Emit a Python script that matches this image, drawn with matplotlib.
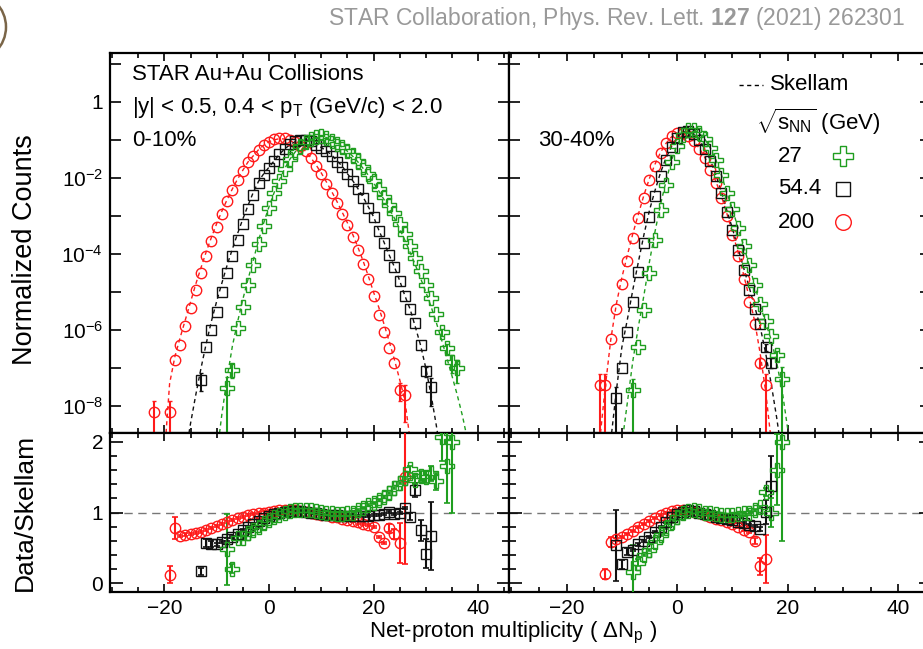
import numpy as np
import matplotlib
matplotlib.use("Agg")
import matplotlib.pyplot as plt
from matplotlib.lines import Line2D
from matplotlib.patches import Circle
from matplotlib.ticker import FixedLocator, MultipleLocator, FuncFormatter

plt.rcParams['font.family'] = ['Liberation Sans', 'DejaVu Sans']
plt.rcParams['mathtext.fontset'] = 'custom'
plt.rcParams['mathtext.rm'] = 'Liberation Sans'
plt.rcParams['mathtext.it'] = 'Liberation Sans:italic'
plt.rcParams['mathtext.bf'] = 'Liberation Sans:bold'

nan = np.nan

# ---------------- 0-10% ----------------
# log10(normalized counts), one value per integer dNp starting at *_x0
red_l_x0 = -22
red_l_log = [-8.16, nan, nan, -8.16, -6.78, -6.38, -5.90, -5.42, -4.94, -4.50, -4.06, -3.67,
             -3.29, -2.94, -2.62, -2.33, -2.05, -1.81, -1.59, -1.42, -1.26, -1.14, -1.05, -0.99,
             -0.95, -0.96, -1.00, -1.07, -1.16, -1.30, -1.48, -1.68, -1.90, -2.15, -2.40, -2.66,
             -2.94, -3.23, -3.54, -3.89, -4.26, -4.66, -5.10, -5.60, -6.06, -6.47, -6.87, -7.56, -7.70]
red_l_top_err = {-22: 1.0, -19: 1.0, 25: 0.5, 26: 0.8}
red_l_skel_x0 = -20
red_l_skel = [-9.3, -7.4, -6.7, -6.2, -5.73, -5.26, -4.79, -4.36, -3.94, -3.56, -3.20, -2.87,
              -2.57, -2.29, -2.03, -1.80, -1.58, -1.42, -1.26, -1.14, -1.05, -1.00, -0.97, -0.98,
              -1.02, -1.09, -1.17, -1.30, -1.47, -1.66, -1.87, -2.11, -2.36, -2.62, -2.90, -3.18,
              -3.48, -3.82, -4.18, -4.58, -5.00, -5.40, -5.84, -6.30, -6.78, -7.30, -7.85, -8.9]
red_l_ratio_x0 = -19
red_l_ratio = [0.12, 0.78, 0.67, 0.69, 0.70, 0.71, 0.73, 0.75, 0.78, 0.81, 0.84, 0.87, 0.90,
               0.92, 0.94, 0.96, 0.98, 0.99, 1.00, 1.01, 1.02, 1.03, 1.03, 1.03, 1.03, 1.02,
               1.01, 1.00, 0.98, 0.97, 0.96, 0.94, 0.93, 0.91, 0.89, 0.88, 0.86, 0.84, 0.82,
               0.80, 0.65, 0.57, 0.78, 0.70, 0.57, 1.50]
red_l_ratio_err = {-19: 0.12, -18: 0.15, 23: 0.06, 24: 0.07, 25: 0.28, 26: 1.22}

blk_l_x0 = -13
blk_l_log = [-7.30, -6.43, -5.99, -5.51, -5.00, -4.50, -4.05, -3.62, -3.20, -2.81, -2.45, -2.14,
             -1.93, -1.74, -1.56, -1.38, -1.24, -1.12, -1.04, -1.00, -1.00, -1.04, -1.13, -1.22,
             -1.30, -1.42, -1.57, -1.71, -1.91, -2.09, -2.30, -2.52, -2.78, -3.04, -3.39, -3.70,
             -4.03, -4.35, -4.70, -5.09, -5.45, -5.80, -6.38, -7.08, -7.48]
blk_l_top_err = {-13: 0.5, 30: 0.3, 31: 0.7}
blk_l_skel_x0 = -16
blk_l_skel = [-9.3, -8.45, -7.7, -7.0, -6.35, -5.76, -5.24, -4.76, -4.29, -3.87, -3.46, -3.08,
              -2.72, -2.38, -2.09, -1.89, -1.72, -1.55, -1.38, -1.24, -1.13, -1.05, -1.01, -1.00,
              -1.03, -1.12, -1.20, -1.29, -1.40, -1.55, -1.69, -1.89, -2.07, -2.28, -2.50, -2.76,
              -3.02, -3.37, -3.69, -4.03, -4.34, -4.70, -5.10, -5.45, -5.92, -6.40, -7.0, -7.7,
              -8.5, -9.4]
blk_l_ratio_x0 = -13
blk_l_ratio = [0.17, 0.57, 0.56, 0.55, 0.58, 0.62, 0.66, 0.70, 0.75, 0.80, 0.84, 0.88, 0.92,
               0.95, 0.98, 1.00, 1.01, 1.02, 1.02, 1.02, 1.01, 1.00, 0.99, 0.98, 0.97, 0.96,
               0.96, 0.95, 0.95, 0.95, 0.95, 0.95, 0.95, 0.96, 0.97, 0.98, 1.01, 0.98, 0.99,
               1.06, 0.94, 1.32, 0.75, 0.42, 0.67]
blk_l_ratio_err = {-13: 0.05, -12: 0.06, -11: 0.04, 27: 0.05, 28: 0.1, 29: 0.15, 30: 0.2, 31: 0.48}

grn_l_x0 = -8
grn_l_log = [-7.52, -7.04, -5.95, -5.38, -4.81, -4.28, -3.74, -3.26, -2.80, -2.40, -2.08, -1.77,
             -1.50, -1.31, -1.15, -1.05, -0.97, -0.92, -0.90, -0.95, -1.02, -1.11, -1.20, -1.29,
             -1.41, -1.55, -1.72, -1.89, -2.08, -2.28, -2.49, -2.70, -2.91, -3.20, -3.47, -3.80,
             -4.10, -4.45, -4.82, -5.15, -5.58, -6.05, -6.48, -6.83, -7.00]
grn_l_top_err = {-8: 1.0, -7: 0.4, 33: 0.2, 34: 0.3, 35: 0.5, 36: 0.6}
grn_l_skel_x0 = -10
grn_l_skel = [-9.3, -8.2, -7.25, -6.42, -5.78, -5.19, -4.66, -4.16, -3.65, -3.18, -2.76, -2.38,
              -2.05, -1.76, -1.51, -1.32, -1.17, -1.06, -0.98, -0.93, -0.91, -0.94, -1.00, -1.09,
              -1.19, -1.30, -1.43, -1.58, -1.75, -1.93, -2.13, -2.34, -2.57, -2.81, -3.06, -3.34,
              -3.64, -3.96, -4.29, -4.64, -5.00, -5.38, -5.80, -6.25, -6.72, -7.2, -7.7, -8.25, -8.9]
grn_l_ratio_x0 = -8
grn_l_ratio = [0.48, 0.21, 0.64, 0.64, 0.71, 0.75, 0.80, 0.85, 0.90, 0.94, 0.97, 1.00, 1.02,
               1.03, 1.04, 1.04, 1.03, 1.02, 1.01, 1.00, 0.99, 0.98, 0.98, 0.99, 1.00, 1.03,
               1.06, 1.10, 1.13, 1.17, 1.22, 1.28, 1.34, 1.41, 1.48, 1.61, 1.46, 1.52, 1.50,
               1.55, 1.44, 2.07, 1.66, 2.00]
grn_l_ratio_err = {-8: 0.5, -7: 0.06, -6: 0.03, 27: 0.05, 28: 0.06, 29: 0.07, 30: 0.08,
                   31: 0.1, 32: 0.12, 33: 0.35, 34: 0.52, 35: 1.0}

# ---------------- 30-40% ----------------
red_r_x0 = -14
red_r_log = [-7.44, -7.44, -6.24, -5.44, -4.79, -4.18, -3.59, -3.05, -2.52, -2.06, -1.68, -1.35,
             -1.09, -0.91, -0.83, -0.82, -0.90, -1.04, -1.23, -1.48, -1.80, -2.13, -2.53, -3.00,
             -3.50, -4.05, -4.65, -5.25, -5.83, -6.85, -7.45]
red_r_top_err = {-14: 1.0, -13: 1.0, 15: 0.3, 16: 1.0}
red_r_skel_x0 = -14
red_r_skel = [-8.9, -7.5, -6.25, -5.32, -4.62, -4.03, -3.46, -2.95, -2.45, -2.01, -1.64, -1.33,
              -1.09, -0.92, -0.84, -0.84, -0.91, -1.04, -1.22, -1.46, -1.77, -2.09, -2.48, -2.94,
              -3.43, -3.95, -4.53, -5.12, -5.75, -6.6, -7.6, -8.9]
red_r_ratio_x0 = -13
red_r_ratio = [0.14, 0.59, 0.62, 0.66, 0.70, 0.74, 0.79, 0.84, 0.88, 0.92, 0.96, 0.99, 1.02,
               1.03, 1.04, 1.03, 1.01, 0.99, 0.96, 0.93, 0.91, 0.89, 0.86, 0.84, 0.80, 0.76,
               0.72, 0.60, 0.24, 0.34]
red_r_ratio_err = {-13: 0.07, -12: 0.07, 14: 0.04, 15: 0.12, 16: 0.34}

blk_r_x0 = -11
blk_r_log = [-7.78, -6.98, -6.06, -5.25, -4.46, -3.71, -3.03, -2.47, -1.96, -1.53, -1.20, -0.95,
             -0.80, -0.76, -0.84, -1.00, -1.25, -1.55, -1.95, -2.40, -2.90, -3.38, -3.90, -4.43,
             -4.95, -5.45, -5.85, -6.44, -6.85]
blk_r_top_err = {-11: 1.0, 16: 0.2, 17: 0.3}
blk_r_skel_x0 = -12
blk_r_skel = [-8.9, -7.6, -6.45, -5.72, -4.93, -4.20, -3.49, -2.85, -2.33, -1.86, -1.47, -1.17,
              -0.94, -0.80, -0.77, -0.85, -1.00, -1.24, -1.53, -1.92, -2.36, -2.86, -3.33, -3.84,
              -4.35, -4.86, -5.37, -5.9, -6.6, -7.4, -8.3, -9.3]
blk_r_ratio_x0 = -11
blk_r_ratio = [0.54, 0.27, 0.45, 0.47, 0.55, 0.60, 0.66, 0.73, 0.80, 0.87, 0.93, 0.98, 1.01,
               1.03, 1.02, 1.00, 0.98, 0.96, 0.94, 0.92, 0.91, 0.89, 0.87, 0.85, 0.83, 0.81,
               0.77, 1.01, 1.37]
blk_r_ratio_err = {-11: 0.5, -10: 0.06, -9: 0.05, 15: 0.03, 16: 0.17, 17: 0.42}

grn_r_x0 = -8
grn_r_log = [-7.57, -6.43, -5.48, -4.50, -3.63, -2.85, -2.18, -1.59, -1.16, -0.88, -0.74, -0.73,
             -0.82, -0.98, -1.22, -1.53, -1.93, -2.40, -2.83, -3.32, -3.78, -4.28, -4.80, -5.30,
             -5.75, -6.14, -6.66, -7.27]
grn_r_top_err = {-8: 1.0, 18: 0.3, 19: 1.0}
grn_r_skel_x0 = -10
grn_r_skel = [-9.0, -7.9, -6.8, -5.9, -5.08, -4.20, -3.41, -2.70, -2.08, -1.53, -1.13, -0.88,
              -0.75, -0.74, -0.83, -0.98, -1.22, -1.52, -1.92, -2.39, -2.82, -3.31, -3.77, -4.28,
              -4.81, -5.33, -5.80, -6.25, -6.85, -7.6, -8.6, -9.6]
grn_r_ratio_x0 = -8
grn_r_ratio = [0.16, 0.29, 0.40, 0.47, 0.59, 0.68, 0.78, 0.87, 0.94, 0.99, 1.02, 1.03, 1.02,
               1.00, 0.99, 0.98, 0.97, 0.97, 0.97, 0.98, 0.99, 1.00, 1.03, 1.08, 1.29, 1.00,
               1.60, 2.00]
grn_r_ratio_err = {-8: 0.38, -7: 0.05, 16: 0.06, 17: 0.2, 18: 0.5, 19: 1.4}

RED, BLK, GRN = '#ff1a1a', '#111111', '#1f9e1f'
MARK = {RED: ('o', 7.5), BLK: ('s', 7), GRN: ('P', 10)}

# ---------------- layout (pixel geometry of the original) ----------------
W, H = 923, 649
fig = plt.figure(figsize=(W / 100, H / 100), dpi=100)

def px_axes(x0, y0, x1, y1):
    return fig.add_axes([x0 / W, 1 - y1 / H, (x1 - x0) / W, (y1 - y0) / H])

ax_tl = px_axes(110, 53, 509, 433)
ax_bl = px_axes(110, 433, 509, 592)
ax_tr = px_axes(509, 53, 931, 433)
ax_br = px_axes(509, 433, 931, 592)

XLIM = (-30.4, 45.9)
decades = list(range(-8, 2))

def log_label(v, pos):
    k = int(round(np.log10(v)))
    if k % 2:
        return ''
    return '1' if k == 0 else r'$10^{%d}$' % k

for ax in (ax_tl, ax_bl, ax_tr, ax_br):
    ax.set_xlim(*XLIM)
    ax.xaxis.set_major_locator(MultipleLocator(20))
    ax.xaxis.set_minor_locator(MultipleLocator(5))
    ax.tick_params(which='both', direction='in', top=True, right=True, width=1.2,
                   labelsize=15, pad=5)
    ax.tick_params(axis='x', which='major', length=6)
    ax.tick_params(axis='x', which='minor', length=3.5)
    for sp in ax.spines.values():
        sp.set_linewidth(1.6)

for ax in (ax_tl, ax_tr):
    ax.set_yscale('log')
    ax.set_ylim(10 ** -8.70, 10 ** 1.28)
    ax.yaxis.set_major_locator(FixedLocator([10.0 ** k for k in decades]))
    ax.yaxis.set_minor_locator(FixedLocator([]))
    ax.yaxis.set_major_formatter(FuncFormatter(log_label))
    ax.tick_params(axis='y', which='major', length=8)
    ax.tick_params(labelbottom=False)

for ax in (ax_bl, ax_br):
    ax.set_ylim(-0.12, 2.12)
    ax.yaxis.set_major_locator(MultipleLocator(1))
    ax.yaxis.set_minor_locator(MultipleLocator(0.2))
    ax.tick_params(axis='y', which='major', length=9)
    ax.tick_params(axis='y', which='minor', length=5)
    ax.axhline(1, color='#777777', lw=1, ls=(0, (6, 4)), zorder=1)

for ax in (ax_tr, ax_br):
    ax.tick_params(labelleft=False)


def draw(ax_top, ax_bot, color, x0, log, top_err, sx0, skel, rx0, ratio, ratio_err):
    marker, ms = MARK[color]
    x = x0 + np.arange(len(log))
    y = 10 ** np.array(log)
    rel = np.array([top_err.get(int(v), 0.0) for v in x])
    has = rel > 0
    lo = y * np.minimum(rel, 0.99999)
    hi = y * rel
    ax_top.errorbar(x[has], y[has], yerr=[lo[has], hi[has]], fmt='none', ecolor=color,
                    elinewidth=1.5, capsize=1.5, zorder=3)
    xs = sx0 + np.arange(len(skel))
    ax_top.plot(xs, 10 ** np.array(skel), color=color, lw=1, ls=(0, (3, 2.5)), zorder=2)
    ax_top.plot(x, y, ls='none', marker=marker, ms=ms, mfc='none', mec=color, mew=1, zorder=4)

    xr = rx0 + np.arange(len(ratio))
    err = np.array([ratio_err.get(int(v), 0.015) for v in xr])
    ax_bot.errorbar(xr, ratio, yerr=err, fmt='none', ecolor=color, elinewidth=1.5,
                    capsize=2, capthick=1.2, zorder=3)
    ax_bot.plot(xr, ratio, ls='none', marker=marker, ms=ms, mfc='none', mec=color, mew=1,
                zorder=4)


draw(ax_tl, ax_bl, RED, red_l_x0, red_l_log, red_l_top_err, red_l_skel_x0, red_l_skel,
     red_l_ratio_x0, red_l_ratio, red_l_ratio_err)
draw(ax_tl, ax_bl, BLK, blk_l_x0, blk_l_log, blk_l_top_err, blk_l_skel_x0, blk_l_skel,
     blk_l_ratio_x0, blk_l_ratio, blk_l_ratio_err)
draw(ax_tl, ax_bl, GRN, grn_l_x0, grn_l_log, grn_l_top_err, grn_l_skel_x0, grn_l_skel,
     grn_l_ratio_x0, grn_l_ratio, grn_l_ratio_err)
draw(ax_tr, ax_br, RED, red_r_x0, red_r_log, red_r_top_err, red_r_skel_x0, red_r_skel,
     red_r_ratio_x0, red_r_ratio, red_r_ratio_err)
draw(ax_tr, ax_br, BLK, blk_r_x0, blk_r_log, blk_r_top_err, blk_r_skel_x0, blk_r_skel,
     blk_r_ratio_x0, blk_r_ratio, blk_r_ratio_err)
draw(ax_tr, ax_br, GRN, grn_r_x0, grn_r_log, grn_r_top_err, grn_r_skel_x0, grn_r_skel,
     grn_r_ratio_x0, grn_r_ratio, grn_r_ratio_err)

# ---------------- text ----------------
def ftext(x, y, s, **kw):
    kw.setdefault('fontsize', 16)
    return fig.text(x / W, 1 - y / H, s, **kw)

ftext(905, 18, r'STAR Collaboration, Phys. Rev. Lett. $\mathbf{127}$ (2021) 262301',
      ha='right', va='center', color='#999999', fontsize=16.5)
ftext(132, 75, 'STAR Au+Au Collisions', va='center')
ftext(132, 108, r'|y| < 0.5, 0.4 < p$_{\rm T}$ (GeV/c) < 2.0', va='center')
ftext(132, 140, '0-10%', va='center')
ftext(538, 140, '30-40%', va='center')

ftext(25, 250, 'Normalized Counts', rotation=90, ha='center', va='center', fontsize=19.5)
ftext(25, 512, 'Data/Skellam', rotation=90, ha='center', va='center', fontsize=19)
ftext(513, 633, r'Net-proton multiplicity ( $\Delta$N$_{\rm p}$ )', ha='center',
      va='center', fontsize=16)

# legend
leg_labels = ['27', '54.4', '200']
leg_colors = [GRN, BLK, RED]
fig.add_artist(Line2D([739 / W, 763 / W], [1 - 85 / H] * 2, color='k', lw=1,
                      ls=(0, (3, 2.5)), transform=fig.transFigure))
ftext(770, 84, 'Skellam', va='center')
ftext(756, 122, r'$\sqrt{\mathrm{s}_{\rm NN}}$ (GeV)', va='center', fontsize=16)
for i, (lab, col) in enumerate(zip(leg_labels, leg_colors)):
    yy = 156 + 33 * i
    ftext(778, yy, lab, va='center')
    m, ms = MARK[col]
    fig.add_artist(Line2D([843 / W], [1 - yy / H], ls='none', marker=m, ms=ms * 1.5,
                          mfc='none', mec=col, mew=1, transform=fig.transFigure))

# partial logo arc in the corner
fig.add_artist(Circle((-28.7 / 100, (H - 27) / 100), 34.7 / 100, fill=False, lw=1.8,
                      ec='#7a6548', transform=fig.dpi_scale_trans))

fig.savefig('out.png', dpi=100)
